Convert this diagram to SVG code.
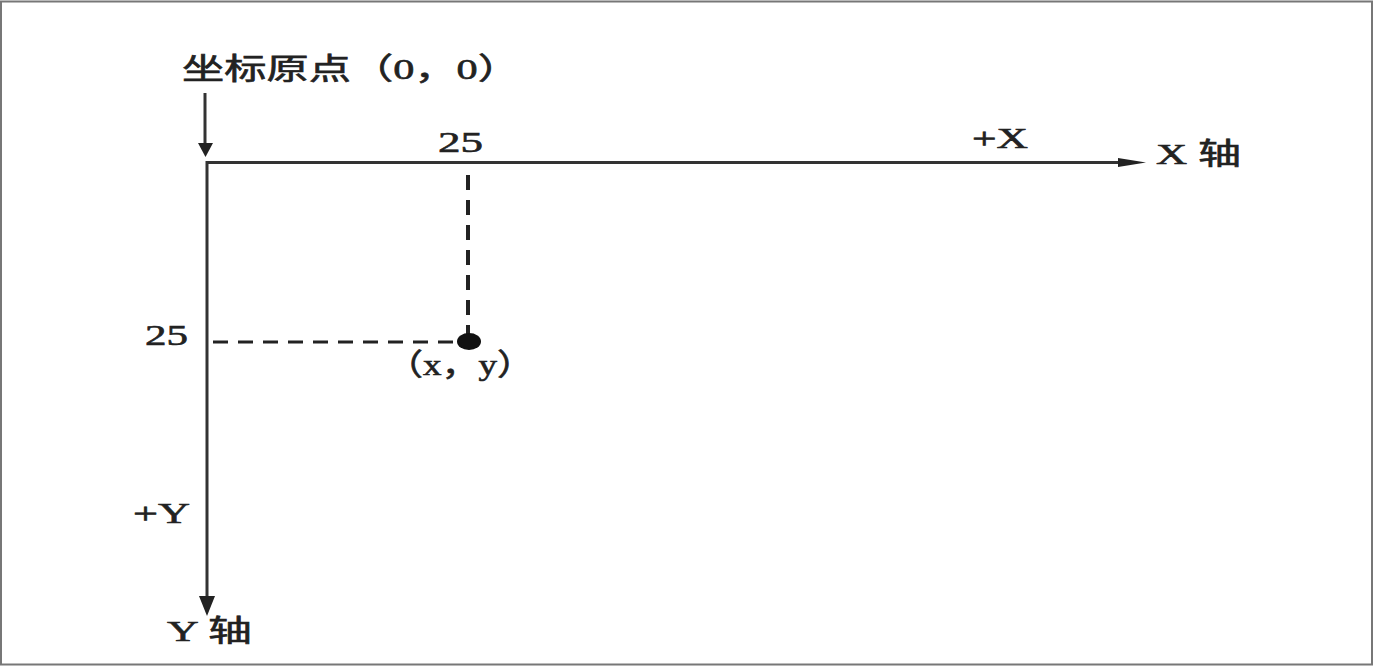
<svg xmlns="http://www.w3.org/2000/svg" width="1374" height="666" viewBox="0 0 1374 666">
<style>
.t{font-family:"Liberation Serif","Noto Sans CJK SC",serif;font-size:30px;fill:#222;stroke:#222;stroke-width:0.6}
.axis{stroke:#333;stroke-width:3;fill:none}
.dash{stroke:#222;fill:none;stroke-dasharray:15,10}
.head{fill:#222}
</style>
<rect x="0" y="0" width="1374" height="666" fill="#fff"/>
<rect x="1" y="1.5" width="1371" height="663" fill="none" stroke="#777" stroke-width="2"/>
<g id="connectors">
<line class="axis" x1="205" y1="93" x2="205" y2="146"/>
<polygon class="head" points="198,143 213,143 205.5,157"/>
<line class="axis" x1="207" y1="162.5" x2="1122" y2="162.5"/>
<polygon class="head" points="1118,158 1146,162.5 1118,167"/>
<line class="axis" x1="207" y1="161" x2="207" y2="598"/>
<polygon class="head" points="199,596 215,596 207,616"/>
<line class="dash" x1="468" y1="175" x2="468" y2="334" stroke-width="4"/>
<line class="dash" x1="213" y1="342" x2="458" y2="342" stroke-width="3"/>
</g>
<g id="origin"><text class="t" x="182" y="79" textLength="338" lengthAdjust="spacingAndGlyphs">坐标原点（0，0）</text></g>
<g id="x25"><text class="t" x="438" y="152" textLength="45" lengthAdjust="spacingAndGlyphs">25</text></g>
<g id="y25"><text class="t" x="145" y="345" textLength="43" lengthAdjust="spacingAndGlyphs">25</text></g>
<g id="point"><ellipse cx="469" cy="341.5" rx="12" ry="8.5" fill="#111"/><text class="t" x="386" y="375" textLength="148" lengthAdjust="spacingAndGlyphs">（x，y）</text></g>
<g id="plusX"><text class="t" x="972" y="148" textLength="56" lengthAdjust="spacingAndGlyphs">+X</text></g>
<g id="xaxis"><text class="t" x="1156" y="164" textLength="85" lengthAdjust="spacingAndGlyphs">X 轴</text></g>
<g id="plusY"><text class="t" x="133" y="523" textLength="57" lengthAdjust="spacingAndGlyphs">+Y</text></g>
<g id="yaxis"><text class="t" x="167" y="641" textLength="85" lengthAdjust="spacingAndGlyphs">Y 轴</text></g>
</svg>
